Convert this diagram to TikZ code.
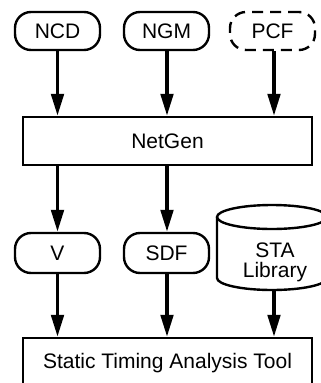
\documentclass[tikz,border=0pt]{standalone}
\usepackage{fontspec}
\setmainfont{Liberation Sans}
\usetikzlibrary{arrows.meta}
\begin{document}
\begin{tikzpicture}[x=1pt,y=-1pt,
  lbl/.style={font=\fontsize{21}{20}\selectfont},
  term/.style={lbl,draw,line width=2.4pt,rounded corners=16pt,minimum width=85pt,minimum height=38pt,inner sep=0pt},
  proc/.style={lbl,draw,line width=2.4pt,minimum width=289pt,minimum height=48pt,inner sep=0pt},
  flow/.style={line width=3.5pt,-{Triangle[length=22pt,width=12.5pt]}}]
\useasboundingbox (0,0) rectangle (321,383);
\clip (0,0) rectangle (321,383);
\node[term] (ncd) at (57.5,31) {NCD};
\node[term] (ngm) at (166.5,31) {NGM};
\node[term,dash pattern=on 11pt off 7pt] (pcf) at (272.5,31) {PCF};
\node[proc] (netgen) at (167.5,141) {NetGen};
\node[term,minimum height=40pt] (v) at (57.5,253) {V};
\node[term,minimum height=40pt] (sdf) at (166.5,253) {SDF};
% cylinder
\draw[line width=2.4pt] (272,217) ellipse [x radius=55, y radius=12];
\draw[line width=2.4pt] (217,217) -- (217,278) arc[start angle=180, end angle=0, x radius=55, y radius=12] -- (327,217);
\node[lbl,align=center,inner sep=0pt] (sta) at (275,262) {STA\\Library};
\coordinate (stabot) at (274,290);
\node[proc,minimum height=50pt] (sat) at (167.5,363) {Static Timing Analysis Tool};
\draw[flow] (ncd.south) -- (ncd.south |- netgen.north);
\draw[flow] (ngm.south -| 167,0) -- (167,0 |- netgen.north);
\draw[flow] (pcf.south -| 274,0) -- (274,0 |- netgen.north);
\draw[flow] (netgen.south -| v.south) -- (v.north);
\draw[flow] (netgen.south -| 167,0) -- (167,0 |- sdf.north);
\draw[flow] (v.south) -- (v.south |- sat.north);
\draw[flow] (sdf.south -| 167,0) -- (167,0 |- sat.north);
\draw[flow] (stabot) -- (stabot |- sat.north);
\end{tikzpicture}
\end{document}
